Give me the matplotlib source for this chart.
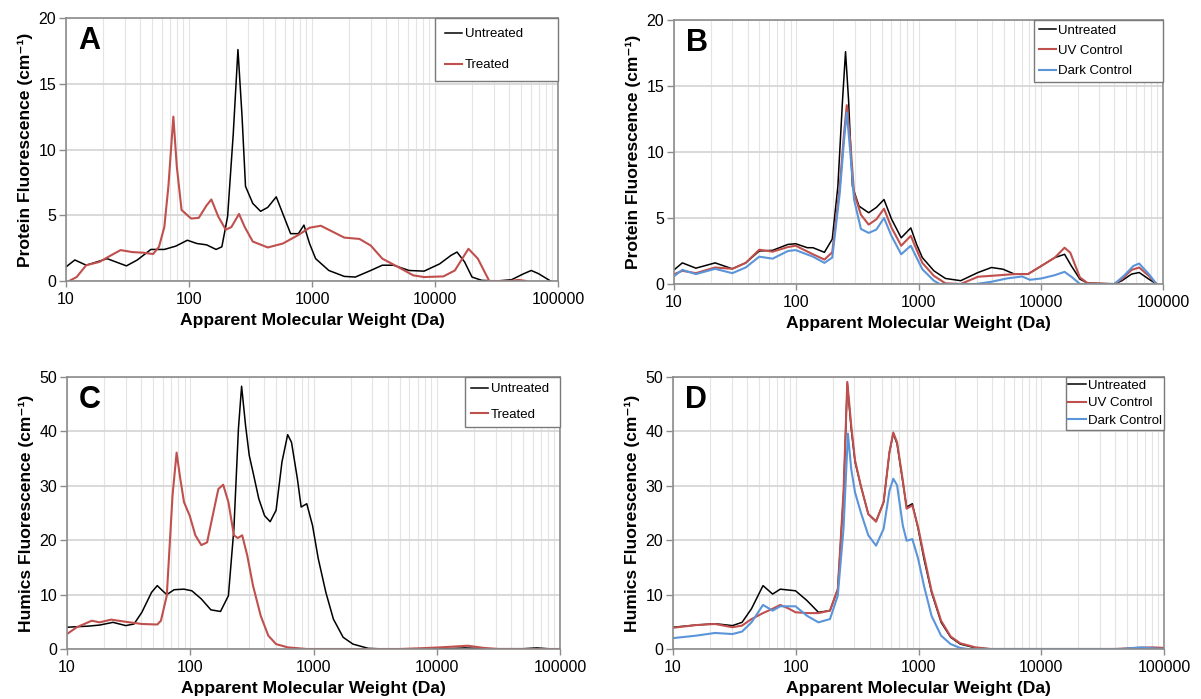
import matplotlib
matplotlib.use("Agg")
import matplotlib.pyplot as plt
from matplotlib.ticker import LogLocator, NullFormatter, FixedLocator, FixedFormatter

plt.rcParams['font.family'] = ['Liberation Sans', 'DejaVu Sans']

# ---- Panel A: protein fluorescence, untreated vs treated ----
a_untreated_mw = [10, 11.8, 14.6, 21.6, 31, 38, 49, 63, 78, 97, 116, 139, 166, 185, 206, 229, 250,
                  270, 288, 330, 382, 437, 512, 580, 670, 775, 860, 955, 1070, 1370, 1830, 2250,
                  3000, 3730, 4600, 6150, 8150, 10900, 13500, 15100, 17400, 20000, 24000, 31800,
                  42000, 52500, 60600, 69700, 87000]
a_untreated = [1.07, 1.6, 1.2, 1.7, 1.15, 1.6, 2.4, 2.4, 2.65, 3.1, 2.85, 2.75, 2.4, 2.6, 4.9, 11.2,
               17.6, 12.5, 7.2, 5.9, 5.3, 5.6, 6.4, 5.1, 3.6, 3.6, 4.25, 2.85, 1.7, 0.8, 0.35, 0.3,
               0.8, 1.2, 1.2, 0.8, 0.75, 1.3, 1.95, 2.2, 1.45, 0.3, 0.05, 0, 0.1, 0.55, 0.8, 0.55, 0]
a_treated_mw = [10.6, 12.2, 14.6, 18.7, 23.2, 27.8, 34.5, 42.7, 51, 57, 63, 68, 74.6, 79.6, 87, 104,
                120, 139, 152, 173, 199, 221, 255, 284, 330, 437, 580, 775, 955, 1180, 1470, 1830,
                2430, 3000, 3730, 5000, 6650, 8150, 11700, 14500, 18700, 22300, 27600, 40000,
                48000, 55000]
a_treated = [0, 0.3, 1.2, 1.45, 1.95, 2.35, 2.2, 2.15, 2.05, 2.6, 4.1, 7.2, 12.5, 8.7, 5.4, 4.75,
             4.8, 5.75, 6.2, 4.9, 3.9, 4.1, 5.1, 4.1, 3.0, 2.55, 2.85, 3.5, 4.05, 4.2, 3.75, 3.3,
             3.2, 2.7, 1.7, 1.07, 0.43, 0.3, 0.35, 0.8, 2.45, 1.7, 0, 0, 0.08, 0]

# ---- Panel B: protein fluorescence, controls ----
b_untreated_mw = [10.1, 11.7, 15.1, 21.7, 30, 38.6, 49.8, 64.1, 85.6, 98.9, 123, 137, 170, 197, 219,
                  239, 253, 268, 288, 326, 391, 452, 522, 603, 722, 865, 965, 1075, 1336, 1660,
                  2215, 3067, 3954, 4912, 6096, 7855, 10120, 13030, 15660, 17800, 20900, 24120,
                  39950, 46130, 55330, 63860, 76560, 88480]
b_untreated = [1.1, 1.6, 1.2, 1.6, 1.15, 1.6, 2.5, 2.55, 3.0, 3.05, 2.75, 2.75, 2.4, 3.4, 7.4, 13.9,
               17.6, 13.9, 7.4, 5.9, 5.4, 5.8, 6.4, 4.9, 3.5, 4.25, 3.0, 2.0, 1.0, 0.42, 0.25, 0.87,
               1.25, 1.12, 0.75, 0.75, 1.37, 2.0, 2.25, 1.37, 0.37, 0.07, 0, 0.25, 0.75, 0.87, 0.37, 0]
b_uv_mw = [10.1, 11.7, 15.1, 21.7, 30, 38.6, 49.8, 64.1, 85.6, 98.9, 137, 170, 197, 227, 246, 259,
           276, 297, 338, 391, 452, 522, 603, 722, 865, 965, 1075, 1336, 1660, 2215, 3067, 3954,
           6096, 7855, 10120, 13030, 15660, 17450, 20900, 24120, 39950, 46130, 55330, 63860,
           76560, 88480]
b_uv = [0.75, 1.0, 0.82, 1.25, 1.15, 1.6, 2.6, 2.45, 2.8, 2.9, 2.25, 1.85, 2.4, 7.4, 11.4, 13.55,
        10.9, 6.9, 5.25, 4.5, 4.9, 5.7, 4.25, 2.9, 3.65, 2.6, 1.6, 0.62, 0.05, 0, 0.55, 0.62, 0.75,
        0.75, 1.37, 2.0, 2.75, 2.37, 0.5, 0.07, 0, 0.37, 1.07, 1.25, 0.62, 0]
b_dark_mw = [10.1, 11.7, 15.1, 21.7, 30, 38.6, 49.8, 64.1, 85.6, 98.9, 137, 170, 197, 227, 246, 259,
             276, 297, 338, 391, 452, 522, 603, 722, 865, 965, 1075, 1336, 1490, 2955, 3954, 5278,
             7043, 8144, 10120, 13030, 15660, 18100, 20900, 39950, 47860, 57330, 63860, 76560, 88480]
b_dark = [0.62, 1.07, 0.75, 1.15, 0.82, 1.25, 2.07, 1.92, 2.5, 2.57, 2.07, 1.6, 2.0, 6.9, 10.9, 13.0,
          10.1, 6.4, 4.17, 3.87, 4.12, 5.0, 3.62, 2.25, 2.9, 2.0, 1.12, 0.25, 0, 0, 0.17, 0.42, 0.57,
          0.32, 0.42, 0.67, 0.92, 0.5, 0, 0, 0.62, 1.37, 1.55, 0.75, 0]

# ---- Panel C: humics fluorescence, untreated vs treated ----
c_untreated_mw = [10, 14.8, 18.4, 23.6, 30, 35, 40.5, 48.5, 54, 58.7, 64.5, 74, 89, 103, 123, 147,
                  176, 204, 226, 246, 261, 281, 301, 323, 360, 401, 445, 497, 555, 617, 663, 740,
                  794, 882, 982, 1093, 1260, 1450, 1740, 2090, 2780, 3720, 12000, 17000, 25000,
                  50000, 65000, 80000, 100000]
c_untreated = [4.0, 4.2, 4.4, 4.9, 4.3, 4.6, 6.75, 10.4, 11.65, 10.85, 10.0, 10.9, 11.0, 10.7, 9.2,
               7.2, 6.9, 9.8, 22.1, 40.5, 48.3, 41.1, 35.6, 32.5, 27.6, 24.5, 23.4, 25.5, 34.4, 39.4,
               38.0, 31.3, 26.1, 26.7, 22.7, 16.6, 10.4, 5.5, 2.15, 0.9, 0.12, 0, 0.05, 0.2, 0.05,
               0.05, 0.2, 0.05, 0]
c_treated_mw = [10, 12, 15.9, 18.4, 22.8, 30, 40.5, 54, 57.8, 64.5, 71.8, 77.5, 83, 89, 99, 110, 123,
                137, 152, 169, 185, 204, 226, 243, 264, 290, 323, 373, 430, 497, 617, 880, 5000,
                7600, 10700, 17900, 24000, 31600, 100000]
c_treated = [2.75, 4.0, 5.2, 4.9, 5.4, 5.0, 4.6, 4.5, 5.2, 9.8, 28.2, 36.1, 31.3, 27.0, 24.5, 20.9,
             19.1, 19.6, 24.5, 29.4, 30.2, 27.0, 20.9, 20.4, 20.9, 17.2, 11.65, 6.1, 2.45, 0.9, 0.3,
             0, 0, 0.15, 0.3, 0.6, 0.2, 0, 0]

# ---- Panel D: humics fluorescence, controls ----
d_untreated_mw = [10, 15.4, 22, 30.5, 36.5, 43.6, 54.1, 64.8, 74.8, 99.6, 123.5, 153, 190, 220, 245,
                  263, 283, 304, 338, 390, 451, 520, 580, 623, 669, 745, 800, 891, 993, 1107, 1277,
                  1528, 1828, 2188, 2916, 3890, 50000, 70000, 85000, 100000]
d_untreated = [4.0, 4.4, 4.65, 4.3, 4.9, 7.4, 11.65, 10.1, 11.0, 10.7, 8.9, 6.75, 7.05, 11.0, 28.2,
               48.8, 40.5, 34.4, 30.1, 24.8, 23.5, 27.0, 36.2, 39.6, 37.7, 30.7, 26.1, 26.7, 22.1,
               16.6, 10.4, 4.9, 2.15, 0.9, 0.2, 0, 0.05, 0.2, 0.1, 0]
d_uv_mw = [10, 15.4, 22, 30.5, 36.5, 43.6, 54.1, 64.8, 74.8, 86.3, 99.6, 123.5, 153, 190, 220, 245,
           263, 283, 304, 338, 390, 451, 520, 580, 623, 669, 745, 800, 891, 993, 1107, 1277, 1528,
           1828, 2188, 2916, 3890, 40000, 60000, 80000, 100000]
d_uv = [3.9, 4.4, 4.6, 4.0, 4.3, 5.5, 6.6, 7.4, 8.1, 7.5, 6.75, 6.6, 6.6, 7.05, 11.0, 28.8, 49.1,
        41.1, 34.7, 30.1, 24.8, 23.4, 27.0, 36.2, 39.8, 38.0, 31.0, 25.8, 26.4, 22.4, 17.2, 10.7,
        5.2, 2.3, 1.05, 0.3, 0, 0, 0.2, 0.3, 0.2]
d_dark_mw = [10, 15.4, 22, 30.5, 36.5, 43.6, 54.1, 64.8, 74.8, 99.6, 123.5, 153, 190, 220, 245, 266,
             283, 304, 338, 390, 451, 520, 580, 623, 669, 745, 800, 891, 993, 1107, 1277, 1528, 1828,
             2188, 2525, 45000, 65000, 85000, 100000]
d_dark = [2.0, 2.45, 2.95, 2.75, 3.2, 4.9, 8.1, 7.05, 7.85, 7.85, 6.1, 4.9, 5.5, 9.8, 22.1, 39.6,
          33.1, 28.8, 25.2, 20.9, 19.0, 22.1, 29.1, 31.3, 30.1, 22.7, 19.9, 20.2, 16.6, 11.65, 6.1,
          2.45, 0.9, 0.2, 0, 0, 0.3, 0.1, 0]

x_ticks = [10, 100, 1000, 10000, 100000]
x_tick_labels = ['10', '100', '1000', '10000', '100000']

BLACK = '#000000'
RED = '#c0504d'
BLUE = '#5b95d9'
SPINE = '#8c8c8c'

W, H = 1201, 699
fig = plt.figure(figsize=(W / 100, H / 100), dpi=100)


def make_axes(left, top, right, bottom):
    """axes from pixel box of the reference"""
    return fig.add_axes([left / W, 1 - bottom / H, (right - left) / W, (bottom - top) / H])


def style_axes(ax, ymax, ystep, ylabel, letter):
    ax.set_xscale('log')
    ax.set_xlim(10, 100000)
    ax.set_ylim(0, ymax)
    ax.xaxis.set_major_locator(FixedLocator(x_ticks))
    ax.xaxis.set_major_formatter(FixedFormatter(x_tick_labels))
    ax.xaxis.set_minor_locator(LogLocator(base=10, subs=range(2, 10)))
    ax.xaxis.set_minor_formatter(NullFormatter())
    ax.set_yticks(range(0, ymax + 1, ystep))
    ax.tick_params(axis='x', which='major', length=4, width=1, color=SPINE, pad=4, labelsize=11.5)
    ax.tick_params(axis='x', which='minor', length=0)
    ax.tick_params(axis='y', length=5, width=1, color=SPINE, pad=2, labelsize=11.5)
    ax.grid(True, axis='y', which='major', color='#d9d9d9', linewidth=1.4)
    ax.grid(True, axis='x', which='both', color='#e4e4e4', linewidth=0.8)
    ax.set_axisbelow(True)
    for sp in ax.spines.values():
        sp.set_color(SPINE)
        sp.set_linewidth(1.2)
    ax.set_xlabel('Apparent Molecular Weight (Da)', fontsize=12.6, fontweight='bold', labelpad=4.5)
    ax.set_ylabel(ylabel, fontsize=12.6, fontweight='bold', labelpad=4)
    ax.annotate(letter, xy=(0, 1), xycoords='axes fraction', xytext=(12, -23),
                textcoords='offset pixels', ha='left', va='center',
                fontsize=22, fontweight='bold')


def add_legend(ax, x0, labelspacing, borderpad):
    leg = ax.legend(loc='upper right', bbox_to_anchor=(x0, 0, 1 - x0, 1), mode='expand',
                    borderaxespad=0, fontsize=9.5, handlelength=1.3, handletextpad=0.2,
                    labelspacing=labelspacing, borderpad=borderpad, fancybox=False,
                    framealpha=1, edgecolor='#7a7a7a')
    leg.get_frame().set_linewidth(1.0)
    return leg


protein_label = 'Protein Fluorescence (cm\u207b\u00b9)'
humics_label = 'Humics Fluorescence (cm\u207b\u00b9)'

# A
ax = make_axes(66, 18, 558, 281)
ax.plot(a_untreated_mw, a_untreated, color=BLACK, lw=1.1, label='Untreated')
ax.plot(a_treated_mw, a_treated, color=RED, lw=1.5, label='Treated')
style_axes(ax, 20, 5, protein_label, 'A')
add_legend(ax, 0.75, 1.45, 0.75)

# B
ax = make_axes(674, 20, 1163, 284)
ax.plot(b_untreated_mw, b_untreated, color=BLACK, lw=1.1, label='Untreated')
ax.plot(b_uv_mw, b_uv, color=RED, lw=1.5, label='UV Control')
ax.plot(b_dark_mw, b_dark, color=BLUE, lw=1.5, label='Dark Control')
style_axes(ax, 20, 5, protein_label, 'B')
add_legend(ax, 0.736, 0.6, 0.35)

# C
ax = make_axes(67, 377, 560, 649)
ax.plot(c_untreated_mw, c_untreated, color=BLACK, lw=1.1, label='Untreated')
ax.plot(c_treated_mw, c_treated, color=RED, lw=1.5, label='Treated')
style_axes(ax, 50, 10, humics_label, 'C')
add_legend(ax, 0.807, 1.0, 0.45)

# D
ax = make_axes(673, 377, 1164, 649)
ax.plot(d_untreated_mw, d_untreated, color=BLACK, lw=1.1, label='Untreated')
ax.plot(d_uv_mw, d_uv, color=RED, lw=1.5, label='UV Control')
ax.plot(d_dark_mw, d_dark, color=BLUE, lw=1.5, label='Dark Control')
style_axes(ax, 50, 10, humics_label, 'D')
add_legend(ax, 0.80, 0.4, 0.2)

fig.savefig('out.png', dpi=100, facecolor='white')
plt.close(fig)
